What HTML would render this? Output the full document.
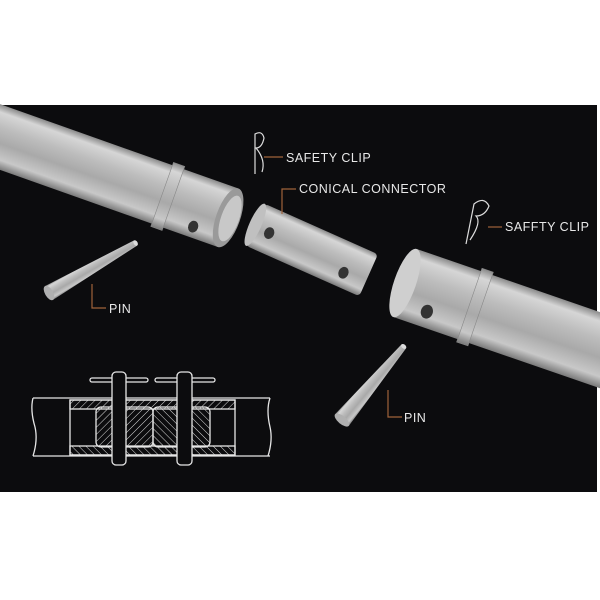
<!DOCTYPE html>
<html><head><meta charset="utf-8"><style>
html,body{margin:0;padding:0;background:#fff;}
svg{display:block}
text{font-family:"Liberation Sans",sans-serif;fill:#e8e8e8;font-size:12.5px;letter-spacing:0.5px}
</style></head><body>
<svg width="600" height="600" viewBox="0 0 600 600" xmlns="http://www.w3.org/2000/svg">
<defs>
<linearGradient id="tg" x1="0" y1="0" x2="0" y2="1">
<stop offset="0" stop-color="#8a8a8a"/><stop offset="0.12" stop-color="#d6d6d6"/><stop offset="0.35" stop-color="#bdbdbd"/><stop offset="0.6" stop-color="#a9a9a9"/><stop offset="0.85" stop-color="#c8c8c8"/><stop offset="1" stop-color="#7a7a7a"/>
</linearGradient>
<pattern id="h1" width="5" height="5" patternUnits="userSpaceOnUse" patternTransform="rotate(45)"><line x1="0" y1="0" x2="0" y2="5" stroke="#ddd" stroke-width="1"/></pattern>
<pattern id="h2" width="5" height="5" patternUnits="userSpaceOnUse" patternTransform="rotate(-45)"><line x1="0" y1="0" x2="0" y2="5" stroke="#ddd" stroke-width="1"/></pattern>
</defs>
<rect x="0" y="105" width="597" height="387" fill="#0c0c0e"/>
<!-- left tube -->
<g transform="translate(0,137) rotate(19.5)">
<rect x="-60" y="-31" width="302" height="62" fill="url(#tg)"/>
<rect x="172" y="-34" width="12" height="68" fill="url(#tg)" stroke="#888" stroke-width="0.6"/>
<ellipse cx="242" cy="0" rx="12" ry="31" fill="#9a9a9a"/>
<ellipse cx="244" cy="0" rx="9" ry="24" fill="#c8c8c8"/>
<ellipse cx="212" cy="20" rx="5" ry="6" fill="#333"/>
</g>
<!-- right tube -->
<g transform="translate(405,283) rotate(19)">
<rect x="0" y="-36" width="260" height="72" fill="url(#tg)"/>
<rect x="68" y="-39" width="12" height="78" fill="url(#tg)" stroke="#888" stroke-width="0.6"/>
<ellipse cx="0" cy="0" rx="11" ry="36" fill="#cfcfcf"/>
<ellipse cx="30" cy="20" rx="6" ry="7" fill="#333"/>
</g>
<!-- connector -->
<g transform="translate(312,250) rotate(24)">
<rect x="-62" y="-23" width="124" height="46" rx="4" fill="url(#tg)"/>
<ellipse cx="-62" cy="0" rx="6" ry="23" fill="#c0c0c0"/>
<ellipse cx="-46" cy="2" rx="5" ry="6" fill="#333"/>
<ellipse cx="38" cy="8" rx="5" ry="6" fill="#333"/>
</g>
<!-- pins -->
<g transform="translate(49,293) rotate(-30)">
<polygon points="0,-8 100,-3 100,3 0,8" fill="url(#tg)"/>
<ellipse cx="100" cy="0" rx="2" ry="3" fill="#ddd"/>
<ellipse cx="0" cy="0" rx="4" ry="8" fill="#b0b0b0"/>
</g>
<g transform="translate(342,420) rotate(-50)">
<polygon points="0,-9 96,-3 96,3 0,9" fill="url(#tg)"/>
<ellipse cx="96" cy="0" rx="2" ry="3" fill="#ddd"/>
<ellipse cx="0" cy="0" rx="4" ry="9" fill="#b0b0b0"/>
</g>
<!-- clips -->
<path d="M255,174 L255,134 Q262,130 264,138 Q262,148 256,148 Q266,160 262,172" fill="none" stroke="#ddd" stroke-width="1.2"/>
<path d="M466,244 L474,204 Q484,196 489,206 Q485,216 476,216 Q482,222 470,240" fill="none" stroke="#ddd" stroke-width="1.2"/>
<!-- leaders -->
<g stroke="#a0623a" stroke-width="1.2" fill="none">
<path d="M264,157 H283"/>
<path d="M282,214 V189 H296"/>
<path d="M488,227 H502"/>
<path d="M92,284 V308 H106"/>
<path d="M388,390 V417 H402"/>
</g>
<text x="286" y="162">SAFETY CLIP</text>
<text x="299" y="193">CONICAL CONNECTOR</text>
<text x="505" y="231">SAFFTY CLIP</text>
<text x="109" y="313">PIN</text>
<text x="404" y="422">PIN</text>
<!-- cross-section -->
<g stroke="#e6e6e6" stroke-width="1.3" fill="none">
<path d="M33,398 H270 M33,456 H270"/>
<path d="M33,398 Q30,410 35,427 Q38,440 33,456"/>
<path d="M270,398 Q266,410 270,427 Q273,440 268,456"/>
<rect x="70" y="400" width="165" height="55"/>
<rect x="70" y="400" width="165" height="9" fill="url(#h1)"/>
<rect x="70" y="446" width="165" height="9" fill="url(#h2)"/>
<rect x="96" y="407" width="57" height="40" rx="5" fill="url(#h1)"/>
<rect x="153" y="407" width="57" height="40" rx="5" fill="url(#h2)"/>
<rect x="90" y="378" width="58" height="4" rx="2" fill="#0c0c0e"/>
<rect x="155" y="378" width="60" height="4" rx="2" fill="#0c0c0e"/>
<rect x="112" y="372" width="14" height="93" rx="4" fill="#0c0c0e"/>
<rect x="177" y="372" width="15" height="93" rx="4" fill="#0c0c0e"/>
</g>
</svg>
</body></html>
